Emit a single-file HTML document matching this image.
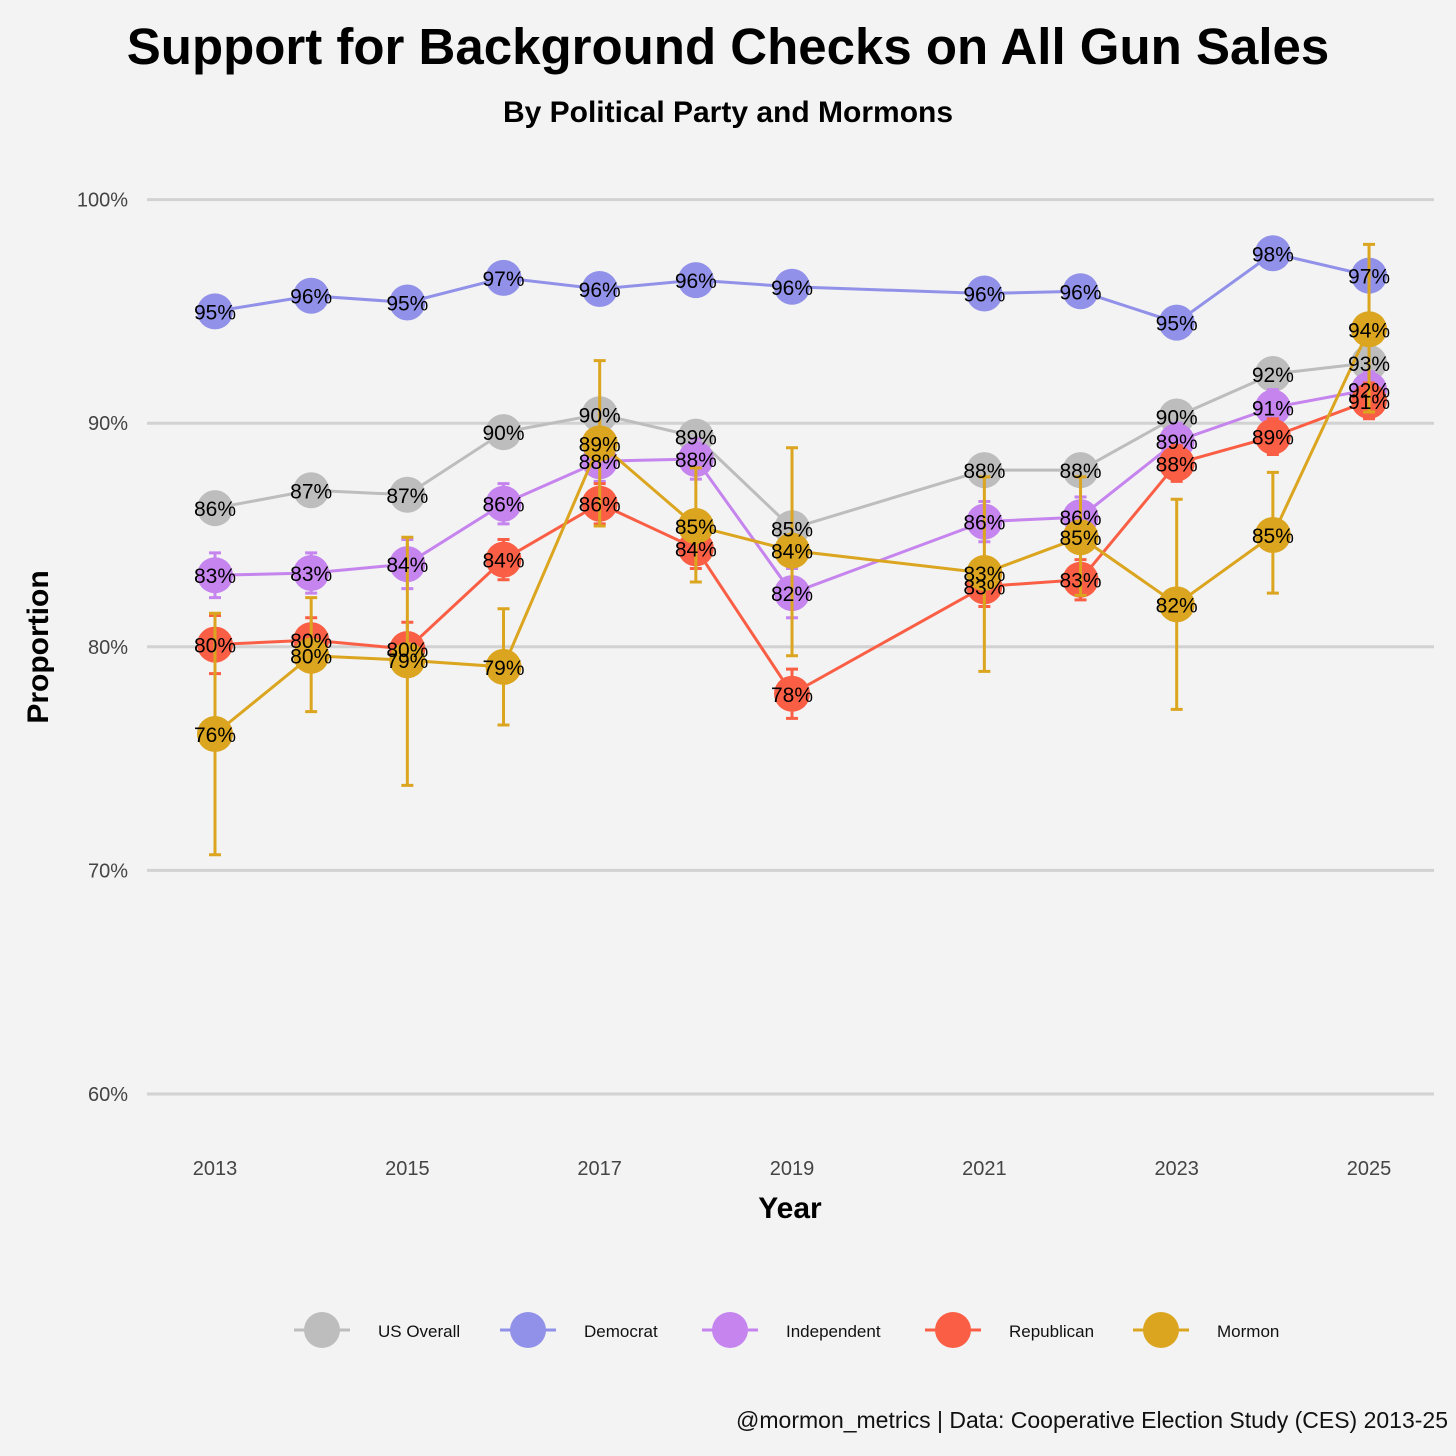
<!DOCTYPE html>
<html><head><meta charset="utf-8"><style>
body{margin:0;background:#f3f3f3;}
svg{display:block;font-family:"Liberation Sans",sans-serif;}
</style></head><body>
<svg id="chart" width="1456" height="1456" viewBox="0 0 1456 1456">
<rect width="1456" height="1456" fill="#f3f3f3"/>
<text x="728" y="64" text-anchor="middle" font-size="51" font-weight="bold" fill="#000">Support for Background Checks on All Gun Sales</text>
<text x="728" y="122" text-anchor="middle" font-size="30" font-weight="bold" fill="#000">By Political Party and Mormons</text>
<g id="grid"></g>
<g id="series"></g>
<g id="labels"></g>
<text x="48" y="647" transform="rotate(-90 48 647)" text-anchor="middle" font-size="30" font-weight="bold">Proportion</text>
<text x="790" y="1218" text-anchor="middle" font-size="30" font-weight="bold">Year</text>
<g id="legend"></g>
<text x="1448" y="1428" text-anchor="end" font-size="23" fill="#111">@mormon_metrics | Data: Cooperative Election Study (CES) 2013-25</text>
</svg>
<script>
const years=[2013,2014,2015,2016,2017,2018,2019,2021,2022,2023,2024,2025];
const xTicks=[2013,2015,2017,2019,2021,2023,2025];
const yTicks=[60,70,80,90,100];
const seriesNames=["US Overall","Democrat","Independent","Republican","Mormon"];
const usOverall=[86.2,87.0,86.8,89.6,90.4,89.4,85.3,87.9,87.9,90.3,92.2,92.7];
const democrat=[95.0,95.7,95.4,96.5,96.0,96.4,96.1,95.8,95.9,94.5,97.6,96.6];
const independent=[83.2,83.3,83.7,86.4,88.3,88.4,82.4,85.6,85.8,89.2,90.7,91.5];
const republican=[80.1,80.3,79.9,83.9,86.4,84.4,77.9,82.7,83.0,88.2,89.4,91.0];
const mormon=[76.1,79.6,79.4,79.1,89.1,85.4,84.3,83.3,84.9,81.9,85.0,94.2];
const mormonHi=[81.5,82.2,84.9,81.7,92.8,88.0,88.9,87.6,87.6,86.6,87.8,98.0];
const mormonLo=[70.7,77.1,73.8,76.5,85.4,82.9,79.6,78.9,82.3,77.2,82.4,90.5];
const indErr=[1.0,0.9,1.1,0.9,0.9,0.9,1.1,0.9,0.9,0.8,0.8,0.8];
const repErr=[1.3,1.0,1.2,0.9,0.9,0.9,1.1,0.9,0.9,0.8,0.8,0.8];
const colors=["#bdbdbd","#9191e9","#c584ee","#fa5f45","#dba520"];
const X=y=>215+(y-2013)*96.17;
const Y=v=>1094-(v-60)*22.36;
const NS="http://www.w3.org/2000/svg";
function mk(t,a,p){const e=document.createElementNS(NS,t);for(const k in a)e.setAttribute(k,a[k]);p.appendChild(e);return e;}
const grid=document.getElementById('grid');
yTicks.forEach(t=>{
 const l=mk('line',{x1:147,x2:1434,y1:Y(t),y2:Y(t),stroke:'#d2d2d2','stroke-width':3},grid);
 
 
 const tx=mk('text',{x:128,y:Y(t)+7,'text-anchor':'end','font-size':20,fill:'#444'},grid);
 tx.textContent=t+'%';
 
 
});
xTicks.forEach(t=>{
 const tx=mk('text',{x:X(t),y:1175,'text-anchor':'middle','font-size':20,fill:'#444'},grid);
 tx.textContent=t;
 
 
});
const data=[usOverall,democrat,independent,republican,mormon];
const errs=[null,null,[independent.map((v,i)=>v+indErr[i]),independent.map((v,i)=>v-indErr[i])],[republican.map((v,i)=>v+repErr[i]),republican.map((v,i)=>v-repErr[i])],[mormonHi,mormonLo]];
const sg=document.getElementById('series'),lg=document.getElementById('labels');
data.forEach((d,s)=>{
 const g=mk('g',{},sg);
 
 
 const pl=mk('polyline',{points:d.map((v,i)=>X(years[i])+','+Y(v)).join(' '),fill:'none',stroke:colors[s],'stroke-width':3},g);
 
 
 if(errs[s]){d.forEach((v,i)=>{
   const x=X(years[i]),y1=Y(errs[s][0][i]),y2=Y(errs[s][1][i]);
   const e=mk('path',{d:`M${x},${y1}V${y2}M${x-6},${y1}H${x+6}M${x-6},${y2}H${x+6}`,stroke:colors[s],'stroke-width':3,fill:'none'},g);
   
   
 });}
 d.forEach((v,i)=>{
  const c=mk('circle',{cx:X(years[i]),cy:Y(v),r:18,fill:colors[s]},g);
  
  
  const t=mk('text',{x:X(years[i]),y:Y(v)+8,'text-anchor':'middle','font-size':21,fill:'#000'},lg);
  t.textContent=Math.round(v)+'%';
  
  
 });
});
const leg=document.getElementById('legend');
const lx=[322,528,730,953,1161];
seriesNames.forEach((n,i)=>{
 const g=mk('g',{},leg);
 
 
 mk('line',{x1:lx[i]-28,x2:lx[i]+28,y1:1330,y2:1330,stroke:colors[i],'stroke-width':3},g);
 mk('circle',{cx:lx[i],cy:1330,r:18,fill:colors[i]},g);
 const t=mk('text',{x:lx[i]+56,y:1337,'font-size':17,fill:'#111'},g);
 t.textContent=n;
});
</script>
</body></html>
